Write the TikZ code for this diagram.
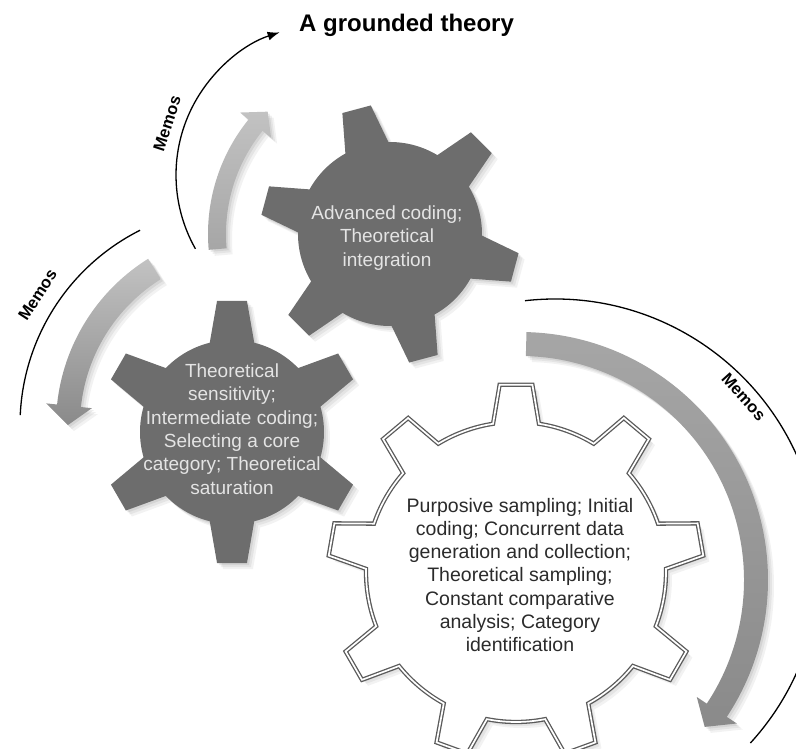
\documentclass[tikz,border=0pt]{standalone}
\usepackage{fontspec}
\setmainfont{Liberation Sans}
\usetikzlibrary{arrows.meta,calc}
\definecolor{GearDark}{HTML}{6D6D6D}
\definecolor{GearText}{HTML}{E4E4E4}
\definecolor{RimGray}{HTML}{5A5A5A}
\definecolor{InkText}{HTML}{2B2B2B}
\definecolor{BandLight}{HTML}{C2C2C2}
\definecolor{BandMid}{HTML}{A6A6A6}
\definecolor{BandDark}{HTML}{8A8A8A}
% gear outline: teeth, first tooth angle, body radius, tip radius, base half angle, tip half angle
\newcommand{\gearpath}[6]{({#2-#5}:#3)
  \foreach \k [evaluate=\k as \c using #2+(\k-1)*360/#1] in {1,...,#1}{
    -- (\c-#6:#4) -- (\c+#6:#4) -- (\c+#5:#3)
    arc[start angle=\c+#5, end angle=\c+360/#1-#5, radius=#3]
  } -- cycle}
\tikzset{
  softshadow/.style={preaction={fill=black,opacity=.05,transform canvas={xshift=6pt,yshift=-6pt}},
    preaction={fill=black,opacity=.06,transform canvas={xshift=4pt,yshift=-4pt}},
    preaction={fill=black,opacity=.07,transform canvas={xshift=2pt,yshift=-2pt}}},
  darkgear/.style={fill=GearDark,softshadow},
  whitegear/.style={fill=white,draw=RimGray,double=white,line width=1.3pt,double distance=1.7pt,softshadow},
  geartext/.style={align=center,inner sep=0pt,font=\fontsize{19}{23.3}\selectfont},
  bandarrow/.style={softshadow},
  memoline/.style={draw=black,line width=1.3pt},
  memolabel/.style={inner sep=0pt,font=\bfseries\fontsize{16.5}{19}\selectfont}
}
\begin{document}
\begin{tikzpicture}[x=1pt,y=1pt]
  \useasboundingbox (0,0) rectangle (796,-749);
  \clip (0,0) rectangle (796,-749);
  % centres
  \coordinate (topc) at (390,-234);
  \coordinate (midc) at (232,-432);
  \coordinate (botc) at (516,-572);
  \coordinate (lfc) at (252,-425);
  \coordinate (rtc) at (520,-580);
  \coordinate (m1c) at (326,-175);
  \coordinate (m2c) at (238,-425);
  \coordinate (m3c) at (555,-564);

  % grey turning arrows
  \path[bandarrow,top color=BandLight,bottom color=BandMid,shift={(topc)}]
    (185:182) arc[start angle=185, end angle=141, radius=182]
    -- (141:193) -- (135:173) -- (141:153) -- (141:164)
    arc[start angle=141, end angle=185, radius=164] -- cycle;
  \path[bandarrow,top color=BandLight,bottom color=BandDark,shift={(lfc)}]
    (122:196) arc[start angle=122, end angle=174, radius=196]
    -- (174:207) -- (180:184) -- (174:161) -- (174:172)
    arc[start angle=174, end angle=122, radius=172] -- cycle;
  \path[bandarrow,top color=BandMid,bottom color=BandDark,shift={(rtc)}]
    (88.5:248) arc[start angle=88.5, end angle=-33.5, radius=248]
    -- (-33.5:260) -- (-38.5:236) -- (-33.5:212) -- (-33.5:224)
    arc[start angle=-33.5, end angle=88.5, radius=224] -- cycle;

  % memo arcs
  \coordinate (m1s) at ($(m1c)+(209.5:150)$);
  \coordinate (m2s) at ($(m2c)+(177.4:218)$);
  \coordinate (m3s) at ($(m3c)+(96.5:265)$);
  \draw[memoline,-{Latex[length=12pt,width=9pt]}] (m1s) arc[start angle=209.5, end angle=108, radius=150];
  \draw[memoline] (m2s) arc[start angle=177.4, end angle=116.7, radius=218];
  \draw[memoline] (m3s) arc[start angle=96.5, end angle=-42.5, radius=265];
  \node[memolabel,rotate=72] (memo1) at ($(m1c)+(162:167)$) {Memos};
  \node[memolabel,rotate=57] (memo2) at ($(m2c)+(147:239)$) {Memos};
  \node[memolabel,rotate=-48] (memo3) at ($(m3c)+(41.5:252)$) {Memos};

  % gears
  \path[darkgear,shift={(topc)}] \gearpath{6}{105}{92}{130}{14}{6.5};
  \path[darkgear,shift={(midc)}] \gearpath{6}{90}{92}{132}{14}{6.5};
  \path[whitegear,shift={(botc)}] \gearpath{9}{90}{150}{188}{8.8}{5};

  \node[geartext,text=GearText] (adv) at ($(topc)+(-3,-4)$) {Advanced coding;\\Theoretical\\integration};
  \node[geartext,text=GearText] (sens) at ($(midc)+(0,3)$) {Theoretical\\sensitivity;\\Intermediate coding;\\Selecting a core\\category; Theoretical\\saturation};
  \node[geartext,text=InkText,font=\fontsize{19.5}{23.3}\selectfont] (purp) at ($(botc)+(4,-3)$) {Purposive sampling; Initial\\coding; Concurrent data\\generation and collection;\\Theoretical sampling;\\Constant comparative\\analysis; Category\\identification};

  \node[inner sep=0pt,anchor=base west,font=\bfseries\fontsize{24}{28}\selectfont] (title) at (299,-32) {A grounded theory};
\end{tikzpicture}
\end{document}
